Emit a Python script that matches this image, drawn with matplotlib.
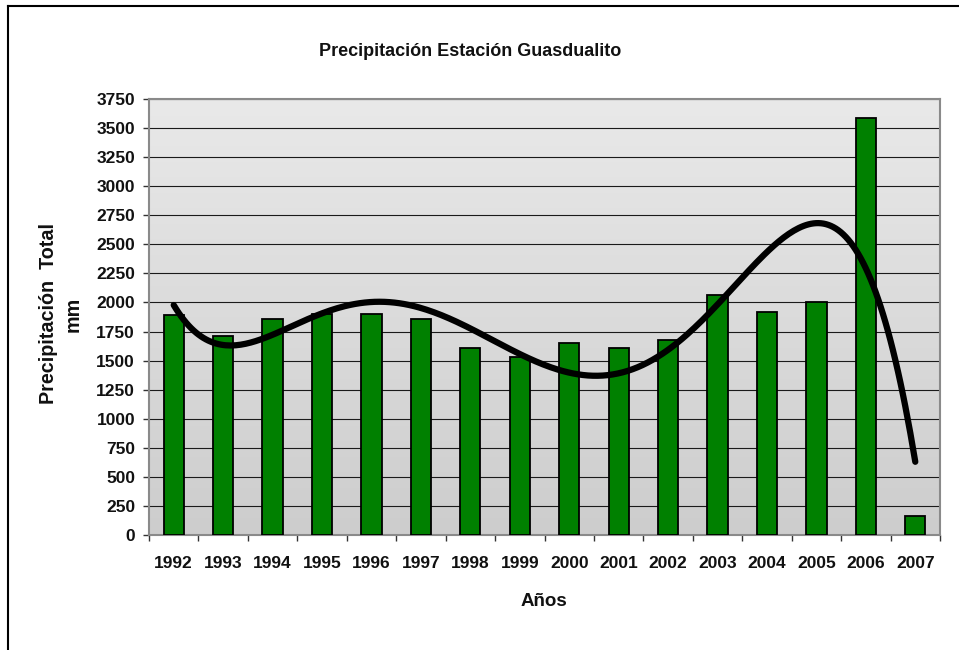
import numpy as np
import matplotlib
matplotlib.use("Agg")
import matplotlib.pyplot as plt
from matplotlib.lines import Line2D
from matplotlib.colors import LinearSegmentedColormap

years = ["1992", "1993", "1994", "1995", "1996", "1997", "1998", "1999",
         "2000", "2001", "2002", "2003", "2004", "2005", "2006", "2007"]
precip = [1895, 1715, 1860, 1905, 1898, 1855, 1610, 1530,
          1650, 1608, 1673, 2062, 1920, 2003, 3585, 163]
yticks = list(range(0, 3751, 250))

title = "Precipitación Estación Guasdualito"
ylabel = "Precipitación  Total\nmm"
xlabel = "Años"

plt.rcParams['font.family'] = ['Liberation Sans', 'DejaVu Sans']

W, H = 959, 650
fig = plt.figure(figsize=(W / 100, H / 100), dpi=100)
fig.patch.set_facecolor("white")

L, R, T, B = 149, 940, 99, 535
ax = fig.add_axes([L / W, 1 - B / H, (R - L) / W, (B - T) / H])

x = np.arange(len(years))
ax.set_xlim(-0.5, len(years) - 0.5)
ax.set_ylim(0, 3750)

# gradient background (light at top, darker at bottom)
grad = np.linspace(0, 1, 256).reshape(-1, 1)
cmap = LinearSegmentedColormap.from_list("bg", ["#e9e9e9", "#cdcdcd"])
ax.imshow(grad, cmap=cmap, aspect="auto", extent=[0, 1, 0, 1],
          transform=ax.transAxes, zorder=0)

ax.set_yticks(yticks)
ax.yaxis.grid(True, color="#1a1a1a", linewidth=0.8, zorder=1)
ax.set_axisbelow(True)

ax.bar(x, precip, width=0.41, color="#008000", edgecolor="black",
       linewidth=1.3, zorder=3)

# polynomial trend line, as in the spreadsheet
xs = np.arange(1, len(years) + 1)
coef = np.polyfit(xs, precip, 5)
xf = np.linspace(1, len(years), 300)
ax.plot(xf - 1, np.polyval(coef, xf), color="black", linewidth=4.5,
        solid_capstyle="round", zorder=4)

# ticks
ax.set_xticks(np.arange(-0.5, len(years), 1.0))
ax.set_xticklabels([])
ax.set_xticks(x, minor=True)
ax.set_xticklabels(years, minor=True)
ax.tick_params(axis="x", which="major", direction="out", length=4, width=1,
               color="#333333")
ax.tick_params(axis="x", which="minor", length=0, pad=15, labelsize=12.5)
ax.tick_params(axis="y", direction="out", length=4, width=1, color="#333333",
               pad=6, labelsize=12.5)
for lab in ax.get_xticklabels(minor=True) + ax.get_yticklabels():
    lab.set_fontweight("bold")
    lab.set_color("#111111")

for s in ax.spines.values():
    s.set_color("#8a8a8a")
    s.set_linewidth(1.5)

fig.text(470 / W, 1 - 51 / H, title, ha="center", va="center", fontsize=13,
         fontweight="bold", color="#111111")
fig.text(61 / W, 1 - 314 / H, ylabel, ha="center", va="center", rotation=90,
         fontsize=14.2, fontweight="bold", linespacing=1.4, multialignment="center",
         color="#111111")
fig.text(544 / W, 1 - 602 / H, xlabel, ha="center", va="center", fontsize=13.5,
         fontweight="bold", color="#111111")

# outer frame lines (top and left)
fig.add_artist(Line2D([8 / W, 1], [1 - 6 / H, 1 - 6 / H], color="black",
                      linewidth=1.5, transform=fig.transFigure))
fig.add_artist(Line2D([8 / W, 8 / W], [1 - 6 / H, 0], color="black",
                      linewidth=1.5, transform=fig.transFigure))

fig.savefig("out.png", dpi=100)
